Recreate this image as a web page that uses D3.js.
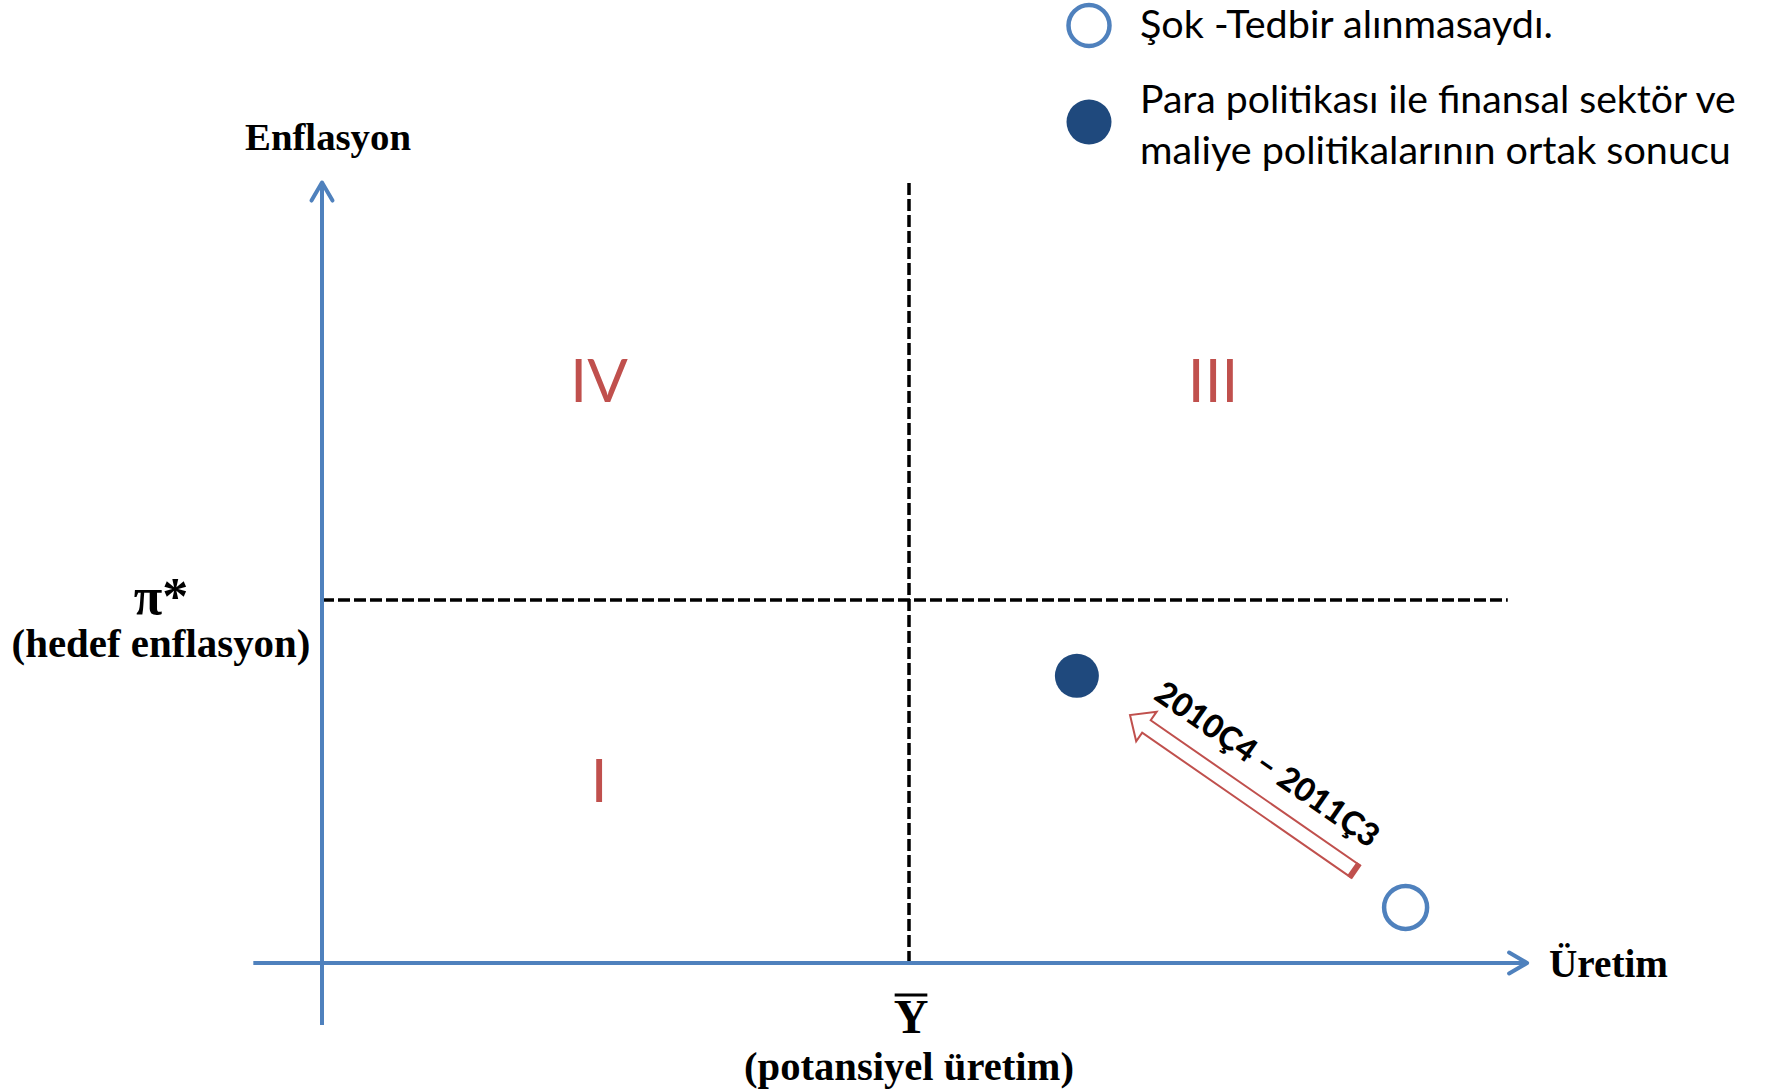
<!DOCTYPE html>
<html>
<head>
<meta charset="utf-8">
<script src="https://cdn.jsdelivr.net/npm/d3@7"></script>
<style>
  html, body { margin: 0; padding: 0; background: #ffffff; }
  svg { display: block; }
</style>
</head>
<body>
<svg id="chart" width="1767" height="1092"></svg>
<script>
// ---- data (chart units: x = output relative to potential, y = inflation relative to target) ----
const axisLabels = { x: "Üretim", y: "Enflasyon" };
const refX = { value: 1, symbol: "Y", label: "(potansiyel üretim)" };
const refY = { value: 1, symbol: "π*", label: "(hedef enflasyon)" };
const quadrantLabels = ["IV", "III", "I"];
const quadrantX = [0.472, 1.518, 0.472];
const quadrantY = [1.606, 1.606, 0.504];
const pointNames = ["Şok -Tedbir alınmasaydı.", "Para politikası ile finansal sektör ve maliye politikalarının ortak sonucu"];
const pointX = [1.846, 1.286];
const pointY = [0.153, 0.791];
const pointFilled = [false, true];
const legendLines = [["Şok -Tedbir alınmasaydı."], ["Para politikası ile finansal sektör ve", "maliye politikalarının ortak sonucu"]];
const moveFrom = [1.760, 0.253];
const moveTo = [1.3765, 0.683];
const moveLabel = "2010Ç4 – 2011Ç3";
const xExtent = [-0.117, 2.053];
const yExtent = [-0.171, 2.15];

// ---- layout ----
const svg = d3.select("#chart");
const x = d3.scaleLinear().domain([0, 1]).range([322, 909]);
const y = d3.scaleLinear().domain([0, 1]).range([963, 600]);

const BLUE = "#4F81BD", NAVY = "#1F497D", RED = "#C0504D";
const SERIF = "'Liberation Serif', 'Times New Roman', serif";
const SANS = "Lato, 'Open Sans', sans-serif";

function fit(sel, width) {
  const node = sel.node();
  const fs = parseFloat(sel.attr("font-size"));
  const w = node.getComputedTextLength();
  sel.attr("font-size", (fs * width / w).toFixed(2));
  return sel;
}

// dashed reference lines
svg.append("line")
  .attr("x1", x(refX.value)).attr("x2", x(refX.value))
  .attr("y1", y(0)).attr("y2", y(2.149))
  .attr("stroke", "#000").attr("stroke-width", 3.5).attr("stroke-dasharray", "12,4");
svg.append("line")
  .attr("x1", x(0)).attr("x2", x(2.02))
  .attr("y1", y(refY.value)).attr("y2", y(refY.value))
  .attr("stroke", "#000").attr("stroke-width", 3.5).attr("stroke-dasharray", "12,4");

// axes
const axisG = svg.append("g").attr("stroke", BLUE).attr("stroke-width", 4)
  .attr("fill", "none").attr("stroke-linecap", "round").attr("stroke-linejoin", "round");
axisG.append("line").attr("x1", x(xExtent[0])).attr("x2", x(xExtent[1]))
  .attr("y1", y(0)).attr("y2", y(0)).attr("stroke-linecap", "butt");
axisG.append("line").attr("x1", x(0)).attr("x2", x(0))
  .attr("y1", y(yExtent[0])).attr("y2", y(yExtent[1])).attr("stroke-linecap", "butt");
// arrowheads
const xt = [x(xExtent[1]), y(0)], yt = [x(0), y(yExtent[1])];
axisG.append("path").attr("d", `M${xt[0]-18},${xt[1]-10.5} L${xt[0]},${xt[1]} L${xt[0]-18},${xt[1]+10.5}`);
axisG.append("path").attr("d", `M${yt[0]-10.5},${yt[1]+18} L${yt[0]},${yt[1]} L${yt[0]+10.5},${yt[1]+18}`);

// axis labels
fit(svg.append("text").text(axisLabels.y)
  .attr("x", x(0) + 6).attr("y", 150).attr("text-anchor", "middle")
  .attr("font-family", SERIF).attr("font-weight", "bold").attr("font-size", 36), 166);
fit(svg.append("text").text(axisLabels.x)
  .attr("x", 1549).attr("y", 977).attr("text-anchor", "start")
  .attr("font-family", SERIF).attr("font-weight", "bold").attr("font-size", 36), 119);

// reference labels
svg.append("text").text(refY.symbol)
  .attr("x", 161).attr("y", 614).attr("text-anchor", "middle")
  .attr("font-family", SERIF).attr("font-weight", "bold").attr("font-size", 52);
fit(svg.append("text").text(refY.label)
  .attr("x", 161).attr("y", 657).attr("text-anchor", "middle")
  .attr("font-family", SERIF).attr("font-weight", "bold").attr("font-size", 36), 299);

const yT = svg.append("text").text(refX.symbol)
  .attr("x", x(refX.value) + 2).attr("y", 1033).attr("text-anchor", "middle")
  .attr("font-family", SERIF).attr("font-weight", "bold").attr("font-size", 48);
const yb = yT.node().getBBox();
svg.append("line").attr("x1", yb.x + 1).attr("x2", yb.x + yb.width - 1)
  .attr("y1", 995).attr("y2", 995).attr("stroke", "#000").attr("stroke-width", 3);
fit(svg.append("text").text(refX.label)
  .attr("x", x(refX.value)).attr("y", 1080).attr("text-anchor", "middle")
  .attr("font-family", SERIF).attr("font-weight", "bold").attr("font-size", 36), 330);

// quadrant labels
svg.append("g").selectAll("text").data(quadrantLabels).join("text")
  .text(d => d)
  .attr("x", (d, i) => x(quadrantX[i]))
  .attr("y", (d, i) => y(quadrantY[i]))
  .attr("dy", "0.36em")
  .attr("text-anchor", "middle")
  .attr("font-family", SANS).attr("font-size", 60).attr("fill", RED);

// movement arrow (block arrow outline)
const p0 = [x(moveFrom[0]), y(moveFrom[1])], p1 = [x(moveTo[0]), y(moveTo[1])];
const L = Math.hypot(p1[0] - p0[0], p1[1] - p0[1]);
const ang = Math.atan2(p1[1] - p0[1], p1[0] - p0[0]) * 180 / Math.PI;
const sw = 7.5, hw = 18, hl = 20;
const ag = svg.append("g").attr("transform", `translate(${p0[0]},${p0[1]}) rotate(${ang})`);
ag.append("path")
  .attr("d", `M0,${-sw} L${L-hl},${-sw} L${L-hl},${-hw} L${L},0 L${L-hl},${hw} L${L-hl},${sw} L0,${sw} Z`)
  .attr("fill", "#fff").attr("stroke", RED).attr("stroke-width", 2).attr("stroke-linejoin", "miter");
ag.append("rect").attr("x", -2).attr("y", -sw - 1).attr("width", 6).attr("height", 2 * sw + 2).attr("fill", RED);

// movement label (parallel to arrow, above it)
const angR = Math.atan2(p0[1] - p1[1], p0[0] - p1[0]);
const mx = (p0[0] + p1[0]) / 2, my = (p0[1] + p1[1]) / 2;
const nx = Math.sin(angR), ny = -Math.cos(angR);
const lbl = svg.append("text").text(moveLabel)
  .attr("text-anchor", "middle").attr("dy", "0.35em")
  .attr("font-family", SANS).attr("font-weight", "900").attr("font-size", 32)
  .attr("transform", `translate(${mx + 38 * nx + 4 * Math.cos(angR)},${my + 38 * ny + 4 * Math.sin(angR)}) rotate(${angR * 180 / Math.PI})`);
fit(lbl, 264);

// points
svg.append("g").selectAll("circle").data(pointNames).join("circle")
  .attr("cx", (d, i) => x(pointX[i]))
  .attr("cy", (d, i) => y(pointY[i]))
  .attr("r", (d, i) => pointFilled[i] ? 22 : 21.5)
  .attr("fill", (d, i) => pointFilled[i] ? NAVY : "#fff")
  .attr("stroke", (d, i) => pointFilled[i] ? "none" : BLUE)
  .attr("stroke-width", 4.5);

// legend
const legendY = [25.5, 122];
const lineBase = [[38], [113, 164]];
const lineW = [[413], [596, 591]];
const lg = svg.append("g");
legendLines.forEach((lines, i) => {
  lg.append("circle").attr("cx", 1089).attr("cy", legendY[i]).attr("r", pointFilled[i] ? 22.5 : 20.5)
    .attr("fill", pointFilled[i] ? NAVY : "#fff")
    .attr("stroke", pointFilled[i] ? "none" : BLUE).attr("stroke-width", 4.5);
  lines.forEach((t, j) => {
    fit(lg.append("text").text(t).attr("x", 1140).attr("y", lineBase[i][j])
      .attr("font-family", SANS).attr("font-size", 34).attr("fill", "#000"), lineW[i][j]);
  });
});
</script>
</body>
</html>
